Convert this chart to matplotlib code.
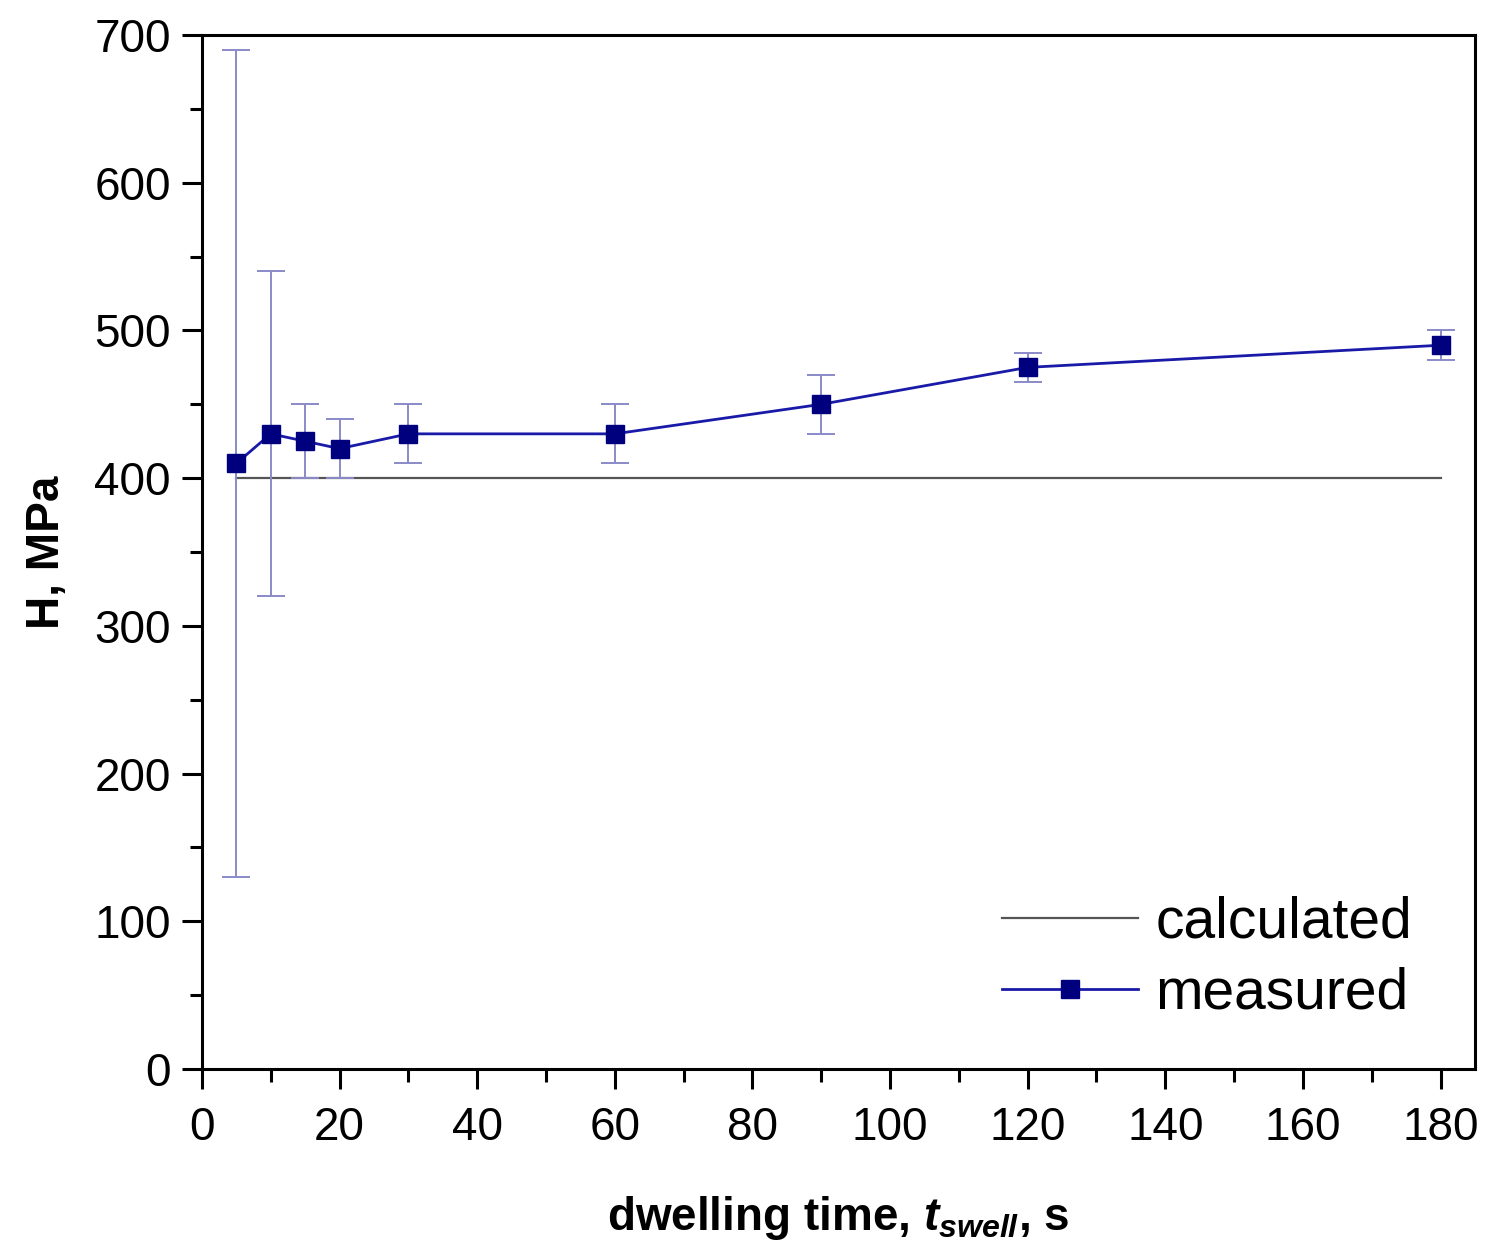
import matplotlib.pyplot as plt
from matplotlib.lines import Line2D
from matplotlib.ticker import MultipleLocator

plt.rcParams['font.family'] = ['Liberation Sans', 'DejaVu Sans']
plt.rcParams['mathtext.fontset'] = 'custom'
plt.rcParams['mathtext.it'] = 'Liberation Sans:bold:italic'
plt.rcParams['mathtext.rm'] = 'Liberation Sans:bold'

# dwelling time (s) and hardness (MPa)
t_swell = [5, 10, 15, 20, 30, 60, 90, 120, 180]
h_measured = [410, 430, 425, 420, 430, 430, 450, 475, 490]
h_err = [280, 110, 25, 20, 20, 20, 20, 10, 10]
h_calculated = 400

fig = plt.figure(figsize=(14.87, 12.56), dpi=100)
ax = fig.add_axes([0.1358, 0.1489, 0.8561, 0.8232])

calc_line, = ax.plot([t_swell[0], t_swell[-1]], [h_calculated, h_calculated],
                     color='#555555', lw=1.6)
ax.errorbar(t_swell, h_measured, yerr=h_err, fmt='-s', color='#1a1aa8',
            mfc='#00007f', mec='#00007f', ms=13, lw=2,
            ecolor='#8a8ac8', elinewidth=1.4, capsize=10, capthick=1.4)

ax.set_xlim(0, 185)
ax.set_ylim(0, 700)
ax.xaxis.set_major_locator(MultipleLocator(20))
ax.xaxis.set_minor_locator(MultipleLocator(10))
ax.yaxis.set_major_locator(MultipleLocator(100))
ax.yaxis.set_minor_locator(MultipleLocator(50))
ax.tick_params(which='major', direction='out', length=14.5, width=2.2,
               labelsize=33)
ax.tick_params(which='minor', direction='out', length=9, width=2.2)
ax.tick_params(axis='x', which='major', pad=12)
ax.tick_params(axis='y', which='major', pad=8)
for s in ax.spines.values():
    s.set_linewidth(2.2)

ax.set_xlabel(r'dwelling time, $t_{swell}$, s', fontsize=33,
              fontweight='bold', labelpad=32)
ax.set_ylabel('H, MPa', fontsize=33, fontweight='bold', labelpad=18)

# legend handles without the error bars
meas_handle = Line2D([], [], color='#1a1aa8', lw=2, marker='s', ms=13,
                     mfc='#00007f', mec='#00007f')
ax.legend([calc_line, meas_handle], ['calculated', 'measured'],
          loc='lower right', frameon=False, fontsize=41,
          handlelength=2.4, handletextpad=0.3, labelspacing=0.3,
          bbox_to_anchor=(0.991, -0.003))

fig.savefig('out.png', dpi=100)
